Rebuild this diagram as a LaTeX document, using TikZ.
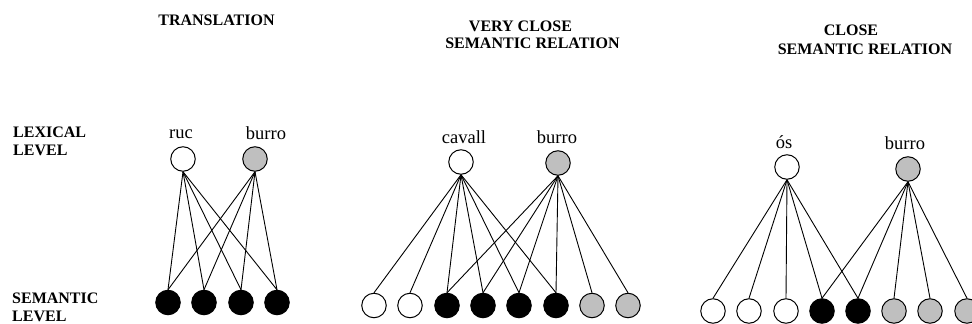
\documentclass[tikz,border=0pt]{standalone}
\usepackage{fontspec}
\setmainfont{Liberation Serif}
\begin{document}
\begin{tikzpicture}[x=1pt,y=-1pt,
  unit/.style={circle,draw=black,line width=1pt,minimum size=24.5pt,inner sep=0pt},
  wunit/.style={unit,fill=white},
  gunit/.style={unit,fill=black!25},
  bunit/.style={unit,fill=black},
  link/.style={line width=0.9pt},
  ttl/.style={font=\fontsize{16}{18}\selectfont\bfseries,inner sep=0pt},
  lvl/.style={font=\fontsize{16}{18}\selectfont\bfseries,inner sep=0pt,anchor=west},
  word/.style={font=\fontsize{18.5}{20}\selectfont,inner sep=0pt,anchor=base}]
\useasboundingbox (0,0) rectangle (972,324);
\fill[white] (0,0) rectangle (972,324);
% titles
\node[ttl] (t1) at (216.5,20.5) {TRANSLATION};
\node[ttl] (t2a) at (520.5,26) {VERY CLOSE};
\node[ttl] (t2b) at (532.5,43) {SEMANTIC RELATION};
\node[ttl] (t3a) at (851,30.5) {CLOSE};
\node[ttl] (t3b) at (865,49) {SEMANTIC RELATION};
% level labels
\node[lvl] (lx1) at (13,132.5) {LEXICAL};
\node[lvl] (lx2) at (13,150.5) {LEVEL};
\node[lvl] (sm1) at (12,298) {SEMANTIC};
\node[lvl] (sm2) at (12,316.5) {LEVEL};
% panel 1
\node[word] (w1a) at (181,138) {ruc};
\node[word] (w1b) at (266,139) {burro};
\node[wunit] (a1) at (183,159) {};
\node[gunit] (b1) at (255,159) {};
\foreach \i/\x in {1/168,2/204,3/241,4/277}
  \node[bunit] (p1s\i) at (\x,302.5) {};
\foreach \i in {1,...,4} {
  \draw[link] (a1.south) -- (p1s\i.north);
  \draw[link] (b1.south) -- (p1s\i.north);
}
% panel 2
\node[word] (w2a) at (464,143) {cavall};
\node[word] (w2b) at (557,143.5) {burro};
\node[wunit] (a2) at (461,162) {};
\node[gunit] (b2) at (558,163) {};
\foreach \i/\x/\s in {1/374/wunit,2/410/wunit,3/447/bunit,4/483/bunit,5/519/bunit,6/556/bunit,7/592/gunit,8/628/gunit}
  \node[\s] (p2s\i) at (\x,305.5) {};
\foreach \i in {1,...,6} \draw[link] (a2.south) -- (p2s\i.north);
\foreach \i in {3,...,8} \draw[link] (b2.south) -- (p2s\i.north);
% panel 3
\node[word] (w3a) at (784,148) {ós};
\node[word] (w3b) at (905,149) {burro};
\node[wunit] (a3) at (787,167) {};
\node[gunit] (b3) at (908,169) {};
\foreach \i/\x/\s in {1/713/wunit,2/749/wunit,3/786/wunit,4/822/bunit,5/858/bunit,6/894/gunit,7/930/gunit,8/967/gunit}
  \node[\s] (p3s\i) at (\x,311) {};
\foreach \i in {1,...,5} \draw[link] (a3.south) -- (p3s\i.north);
\foreach \i in {4,...,8} \draw[link] (b3.south) -- (p3s\i.north);
\end{tikzpicture}
\end{document}
